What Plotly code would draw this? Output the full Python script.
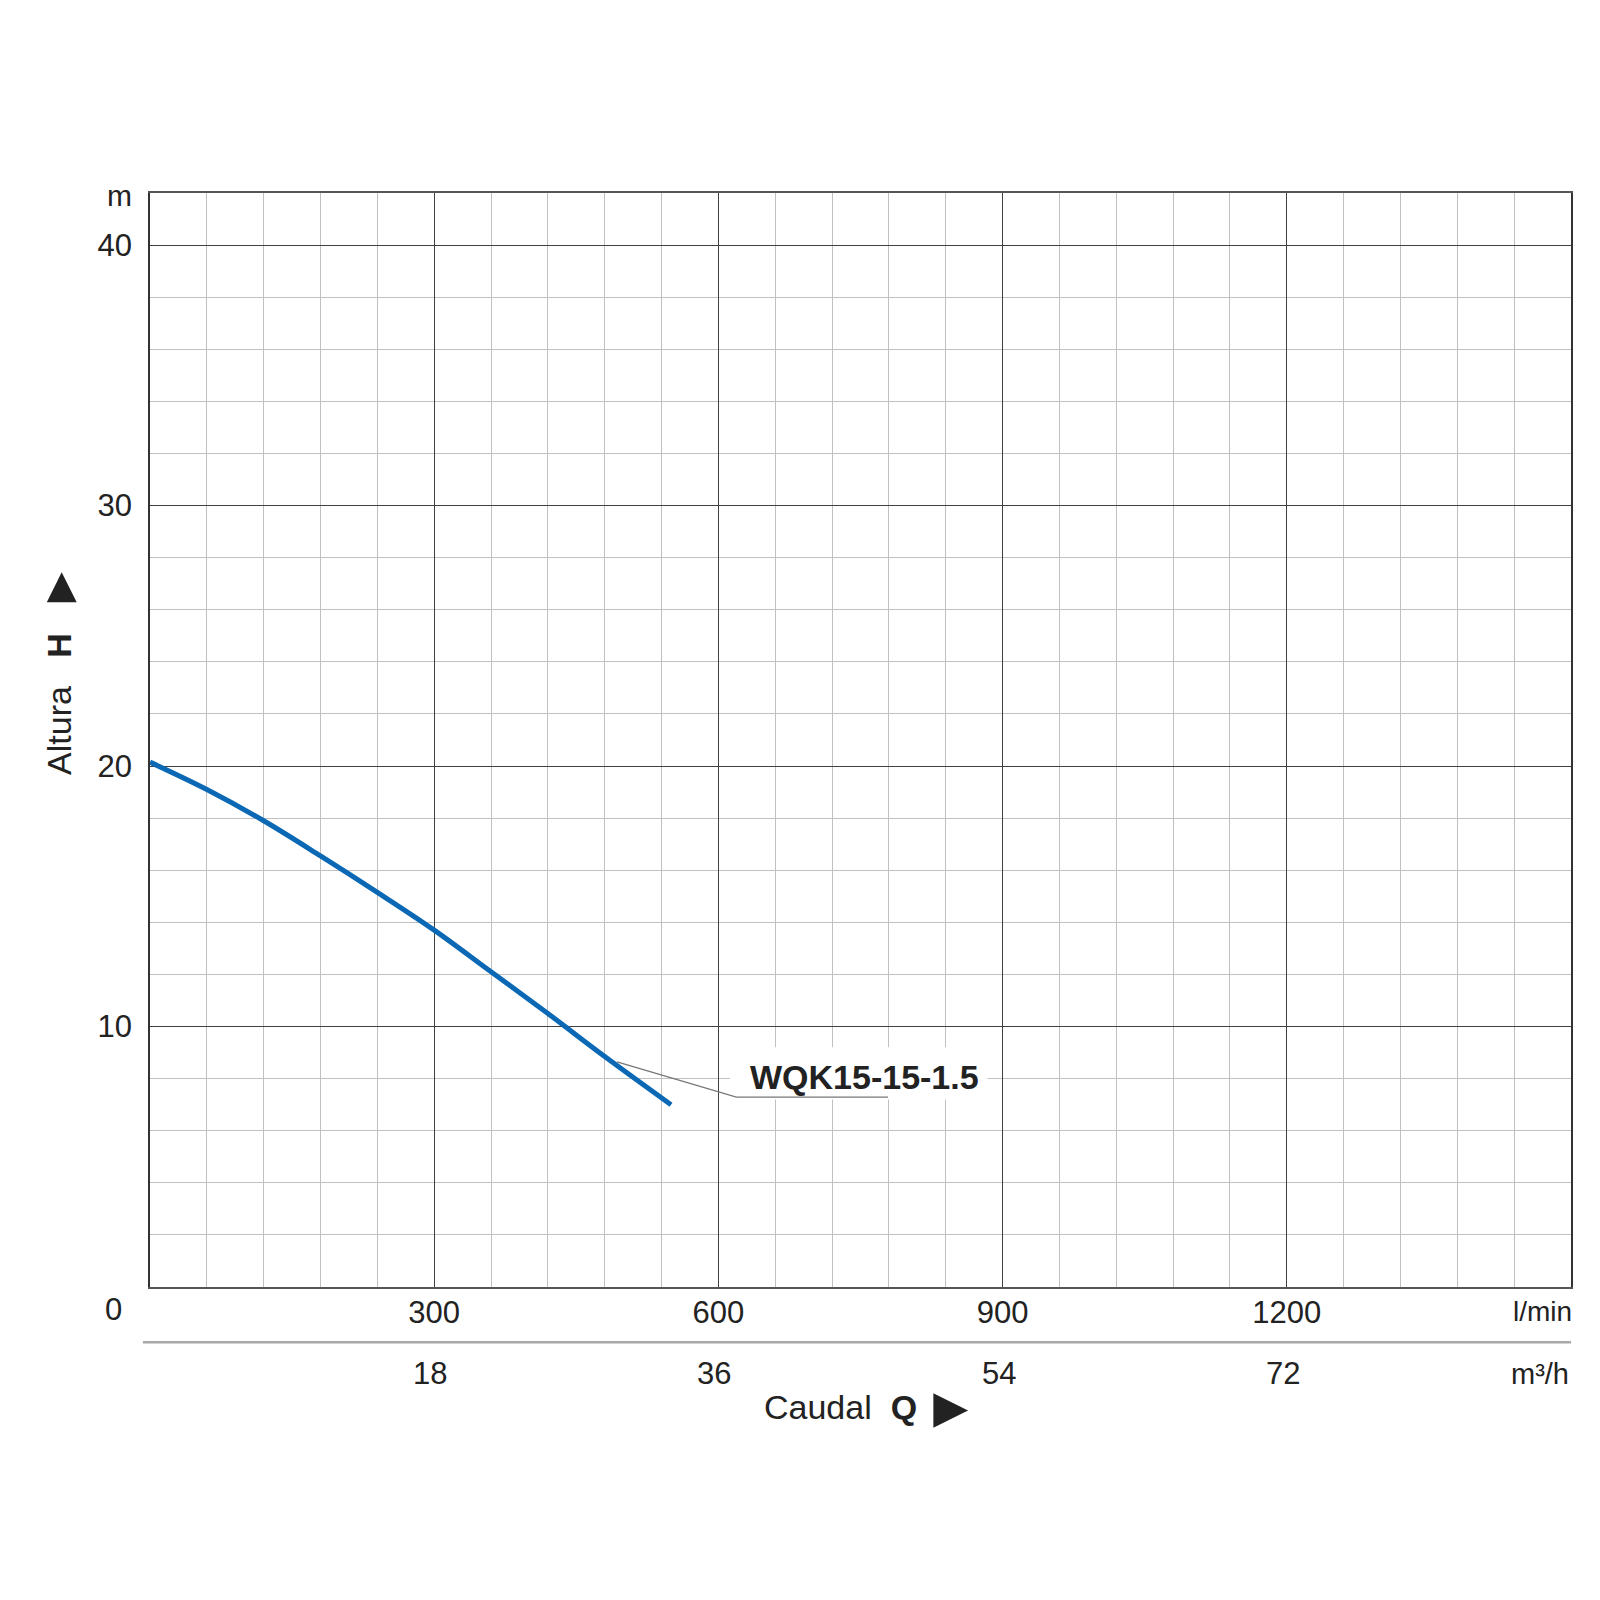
import plotly.graph_objects as go

# pump curve WQK15-15-1.5, flow in l/min, head in m
flow_lmin = [0, 60, 120, 180, 240, 300, 360, 420, 480, 550]
head_m = [20.15, 19.1, 17.9, 16.55, 15.15, 13.7, 12.1, 10.5, 8.85, 7.0]
model = "WQK15-15-1.5"

x_ticks = [300, 600, 900, 1200]
x_ticks_m3h = ["18", "36", "54", "72"]
y_ticks = [10, 20, 30, 40]

FAM = "Liberation Sans, Arial, sans-serif"
font = dict(family=FAM, size=31, color="#222222")

fig = go.Figure()
fig.add_trace(go.Scatter(x=flow_lmin, y=head_m, mode="lines",
                         line=dict(color="#0a68b4", width=5, shape="spline"),
                         showlegend=False, hoverinfo="skip"))

fig.update_xaxes(range=[0, 1500], tickmode="array", tickvals=x_ticks,
                 ticktext=[str(v) for v in x_ticks], showgrid=True,
                 gridcolor="#404040", gridwidth=1.2, zeroline=False,
                 minor=dict(tick0=0, dtick=60, showgrid=True, gridcolor="#c0c0c0", gridwidth=1),
                 showline=True, linecolor="#555555", linewidth=2, mirror=True,
                 ticks="", ticklabelstandoff=-3, tickfont=font)
fig.update_yaxes(range=[0, 42], tickmode="array", tickvals=y_ticks,
                 ticktext=[str(v) for v in y_ticks], showgrid=True,
                 gridcolor="#404040", gridwidth=1.2, zeroline=False,
                 minor=dict(tick0=0, dtick=2, showgrid=True, gridcolor="#c0c0c0", gridwidth=1),
                 showline=True, linecolor="#333333", linewidth=1.5, mirror=True,
                 ticks="", ticklabelstandoff=10, tickfont=font)

# white box + leader line for the curve label
fig.add_shape(type="rect", x0=612, x1=884, y0=7.2, y1=9.2, xref="x", yref="y",
              fillcolor="white", line=dict(width=0), layer="above")
fig.add_shape(type="path", path="M 493,8.64 L 619,7.29 L 779,7.29", xref="x", yref="y",
              line=dict(color="#777777", width=1.2), layer="above")
fig.add_annotation(x=754, y=8.05, xref="x", yref="y", text="<b>" + model + "</b>",
                   showarrow=False, font=dict(family=FAM, size=34, color="#222222"))

# second flow scale (m3/h) and units
fig.add_shape(type="line", x0=-0.005, x1=1, y0=-0.0505, y1=-0.0505, xref="paper", yref="paper",
              line=dict(color="#a8a8a8", width=2.5))
for v, t in zip(x_ticks, x_ticks_m3h):
    fig.add_annotation(x=v, y=-0.0795, xref="x", yref="paper", text=t, showarrow=False,
                       font=font, yanchor="middle", xshift=-4)
fig.add_annotation(x=1.0, y=-0.0795, xref="paper", yref="paper", text="m³/h", showarrow=False,
                   font=dict(family=FAM, size=29, color="#222222"), xanchor="right", yanchor="middle")
fig.add_annotation(x=1.002, y=-0.0225, xref="paper", yref="paper", text="l/min", showarrow=False,
                   font=dict(family=FAM, size=28, color="#222222"), xanchor="right", yanchor="middle")
fig.add_annotation(x=-0.026, y=-0.0205, xref="paper", yref="paper", text="0", showarrow=False,
                   font=font, xanchor="center", yanchor="middle")
fig.add_annotation(x=-0.011, y=0.9975, xref="paper", yref="paper", text="m", showarrow=False,
                   font=dict(family=FAM, size=30, color="#222222"), xanchor="right", yanchor="middle")

# axis titles
fig.add_annotation(x=0.486, y=-0.110, xref="paper", yref="paper",
                   text="Caudal  <b>Q</b>", showarrow=False,
                   font=dict(family=FAM, size=34, color="#222222"), yanchor="middle")
fig.add_annotation(x=0.563, y=-0.109, xref="paper", yref="paper",
                   text="►", showarrow=False,
                   font=dict(family=FAM, size=58, color="#222222"), yanchor="middle")
fig.add_annotation(x=-0.064, y=0.533, xref="paper", yref="paper",
                   text="Altura   <b>H</b>", showarrow=False, textangle=-90,
                   font=dict(family=FAM, size=34, color="#222222"), xanchor="center")
fig.add_annotation(x=-0.064, y=0.64, xref="paper", yref="paper",
                   text="►", showarrow=False, textangle=-90,
                   font=dict(family=FAM, size=50, color="#222222"), xanchor="center")

fig.update_layout(width=1600, height=1600, plot_bgcolor="white", paper_bgcolor="white",
                  margin=dict(l=142, r=37, t=185, b=321), font=font)

fig.write_html("out.html")
